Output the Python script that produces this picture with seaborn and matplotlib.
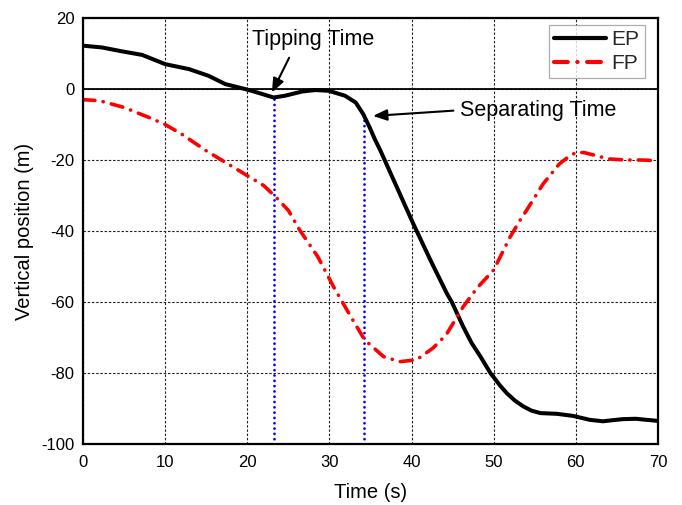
import numpy as np
import pandas as pd
import matplotlib
matplotlib.use("Agg")
import matplotlib.pyplot as plt
import seaborn as sns

# ---- data ----
ep_time = [0, 2.3, 4.75, 7.2, 10.0, 12.9, 15.3, 17.3, 20.2, 21.8, 23.2, 24.6, 26.7, 28.3, 29.9,
           31.9, 33.2, 34.1, 34.9, 35.5, 36.2, 38.2, 40.2, 42.3, 44.3, 44.9, 46.3, 47.3, 48.4,
           49.6, 50.8, 51.6, 52.6, 53.6, 54.6, 55.7, 57.7, 59.7, 61.7, 63.3, 65.7, 67.3, 70.0]
ep_pos = [12.2, 11.7, 10.6, 9.6, 7.0, 5.6, 3.7, 1.4, -0.3, -1.4, -2.4, -1.9, -0.7, -0.3, -0.5,
          -1.9, -3.8, -7.0, -10.8, -14.0, -17.3, -27.6, -37.9, -48.2, -57.6, -60.0, -67.0, -71.5, -75.4,
          -80.0, -83.6, -85.7, -87.8, -89.4, -90.6, -91.3, -91.5, -92.1, -93.2, -93.6, -93.0, -92.9, -93.5]

fp_time = [0, 2, 5, 8, 10, 12, 15, 18, 20, 22, 23.5, 25, 26.4, 28.6, 30.5, 32.5, 34.3, 36.6, 38.6,
           40.6, 42.6, 44.2, 46.3, 48, 50, 52, 53.2, 54, 56, 58, 59, 60, 61, 62, 64, 66, 68, 70]
fp_pos = [-3.0, -3.3, -5.2, -8.0, -10.0, -12.7, -17.4, -21.6, -24.4, -27.2, -30.5, -34.2, -39.8, -47.3,
          -55.7, -63.7, -70.7, -75.4, -76.8, -76.3, -73.0, -69.3, -61.3, -56.0, -51.0, -41.7, -37.0,
          -34.2, -26.8, -21.1, -19.3, -17.9, -17.9, -18.5, -19.7, -20.0, -20.0, -20.2]

event_times = [23.2, 34.2]
event_pos = [-2.4, -7.2]
event_labels = ["Tipping Time", "Separating Time"]
label_xy = [(28.0, 14.0), (45.9, -6.2)]
arrow_tail = [(25.1, 8.8), (45.1, -6.1)]
arrow_tip = [(23.0, -1.0), (35.3, -7.6)]

x_ticks = [0, 10, 20, 30, 40, 50, 60, 70]
y_ticks = [-100, -80, -60, -40, -20, 0, 20]

df = pd.concat([
    pd.DataFrame({"Time": ep_time, "Pos": ep_pos, "Series": "EP"}),
    pd.DataFrame({"Time": fp_time, "Pos": fp_pos, "Series": "FP"}),
], ignore_index=True)

sns.set_theme(style="white")
plt.rcParams["font.family"] = ["Liberation Sans", "DejaVu Sans"]
plt.rcParams["axes.unicode_minus"] = False

fig = plt.figure(figsize=(6.82, 5.05), dpi=100)
ax = fig.add_axes([0.1217, 0.1208, 0.843, 0.8436])

sns.lineplot(data=df, x="Time", y="Pos", hue="Series", style="Series",
             palette={"EP": "black", "FP": "#ff0000"},
             dashes={"EP": "", "FP": (3.3, 2.3, 0.05, 2.3)},
             linewidth=2.6, ax=ax, legend=True, sort=False, zorder=3)
for ln in ax.get_lines():
    ln.set_dash_capstyle("round")
    ln.set_solid_capstyle("round")
    ln.set_solid_joinstyle("round")
    ln.set_dash_joinstyle("round")
ax.get_lines()[0].set_linewidth(2.9)

ax.set_xlim(0, 70)
ax.set_ylim(-100, 20)
ax.set_xticks(x_ticks)
ax.set_yticks(y_ticks)
ax.tick_params(axis="both", length=0, labelsize=12, colors="black")
ax.tick_params(axis="x", pad=8)
ax.tick_params(axis="y", pad=6)
ax.grid(True, color="#222222", linestyle=(0, (2.2, 1.6)), linewidth=0.8)
ax.axhline(0, color="black", linewidth=1.3, zorder=2)
for s in ax.spines.values():
    s.set_color("black")
    s.set_linewidth(1.6)
    s.set_zorder(4)

for et, ep in zip(event_times, event_pos):
    ax.plot([et, et], [-100, ep], color="#0000ff", linestyle=(0, (0.01, 1.9)),
            linewidth=2.0, dash_capstyle="round", zorder=2.5)

for lab, (tx, ty), tail, tip in zip(event_labels, label_xy, arrow_tail, arrow_tip):
    ha = "center" if lab.startswith("Tipping") else "left"
    ax.text(tx, ty, lab, ha=ha, va="center", fontsize=15.5, color="black")
    ax.annotate("", xy=tip, xytext=tail,
                arrowprops=dict(arrowstyle="-|>,head_length=0.7,head_width=0.28",
                                color="black", lw=1.5, shrinkA=0, shrinkB=0))

ax.set_xlabel("Time (s)", fontsize=14.5, color="black", labelpad=9)
ax.set_ylabel("Vertical position (m)", fontsize=14.5, color="black", labelpad=5)

leg = ax.legend(loc="upper right", fontsize=15, frameon=True, fancybox=False,
                edgecolor="#999999", handlelength=2.5, borderpad=0.25,
                labelspacing=0.25, handletextpad=0.25, borderaxespad=0,
                bbox_to_anchor=(0.977, 0.984))
leg.get_frame().set_linewidth(0.9)
for h in leg.get_lines():
    h.set_linewidth(3.0)
    h.set_dash_capstyle("round")

fig.savefig("out.png", dpi=100)
